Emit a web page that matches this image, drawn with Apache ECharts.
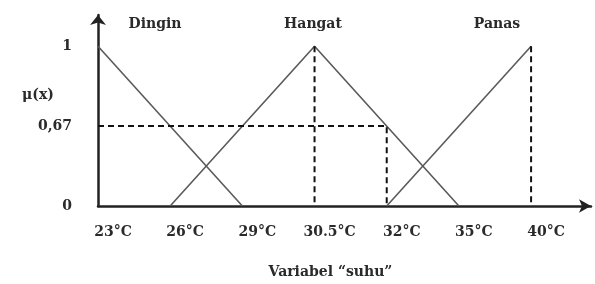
<!DOCTYPE html>
<html>
<head>
<meta charset="utf-8">
<script src="https://cdn.jsdelivr.net/npm/echarts@6/dist/echarts.min.js"></script>
<style>html,body{margin:0;padding:0;background:#fff}#c{width:595px;height:284px}</style>
</head>
<body>
<div id="c"></div>
<script>
// Schematic membership diagram: points sit on labelled (evenly spaced) positions
const tempLabels = ['23°C', '26°C', '29°C', '30.5°C', '32°C', '35°C', '40°C'];
const muLabels = ['0', '0,67', '1'];
const setNames = ['Dingin', 'Hangat', 'Panas'];
const dingin = [['23°C', '1'], ['29°C', '0']];
const hangat = [['26°C', '0'], ['30.5°C', '1'], ['35°C', '0']];
const panas = [['32°C', '0'], ['40°C', '1']];
const cutLine = [['23°C', '0,67'], ['32°C', '0,67'], ['32°C', '0']];
const peakDrop1 = [['30.5°C', '1'], ['30.5°C', '0']];
const peakDrop2 = [['40°C', '1'], ['40°C', '0']];
const xName = 'Variabel “suhu”';
const yName = 'μ(x)';

const toIdx = pts => pts.map(p => [tempLabels.indexOf(p[0]), muLabels.indexOf(p[1])]);
const font = 'DejaVu Serif';
const fs = 14;
const txt = { fontFamily: font, fontWeight: 'bold', fontSize: fs, color: '#2a2a2a' };
const gfont = 'bold ' + fs + 'px "DejaVu Serif"';

const solid = (name, d) => ({
  name, type: 'line', data: toIdx(d), symbol: 'none', silent: true,
  lineStyle: { color: '#5a5a5a', width: 1.6 }
});
const dashed = d => ({
  type: 'line', data: toIdx(d), symbol: 'none', silent: true,
  lineStyle: { color: '#111', width: 2, type: [6, 4] }
});
const gtext = (text, x, y) => ({
  type: 'text', x, y,
  style: { text, fill: '#2a2a2a', font: gfont, align: 'center', verticalAlign: 'middle' }
});

const chart = echarts.init(document.getElementById('c'));
chart.setOption({
  animation: false,
  grid: { left: 98, right: 4, top: 15, bottom: 78 },
  xAxis: {
    type: 'value', min: 0, max: 6.83, interval: 1,
    name: xName, nameLocation: 'middle', nameGap: 59,
    nameTextStyle: Object.assign({}, txt, { padding: [0, 28, 0, 0] }),
    axisLine: { lineStyle: { color: '#222', width: 2.5 }, symbol: ['none', 'arrow'], symbolSize: [10, 12] },
    axisTick: { show: false }, splitLine: { show: false },
    axisLabel: Object.assign({}, txt, {
      margin: 19, padding: [0, 0, 0, 30],
      showMaxLabel: false,
      formatter: v => (Number.isInteger(v) && tempLabels[v]) ? tempLabels[v] : ''
    })
  },
  yAxis: {
    type: 'value', min: 0, max: 2.39, interval: 1,
    axisLine: { lineStyle: { color: '#222', width: 2.5 }, symbol: ['none', 'arrow'], symbolSize: [12, 10] },
    axisTick: { show: false }, splitLine: { show: false },
    axisLabel: Object.assign({}, txt, {
      margin: 26, showMaxLabel: false,
      formatter: v => (Number.isInteger(v) && muLabels[v]) ? muLabels[v] : ''
    })
  },
  graphic: [
    gtext(setNames[0], 155, 24),
    gtext(setNames[1], 313, 24),
    gtext(setNames[2], 497, 24),
    gtext(yName, 38, 95)
  ],
  series: [
    solid(setNames[0], dingin),
    solid(setNames[1], hangat),
    solid(setNames[2], panas),
    dashed(cutLine),
    dashed(peakDrop1),
    dashed(peakDrop2)
  ]
});
</script>
</body>
</html>
